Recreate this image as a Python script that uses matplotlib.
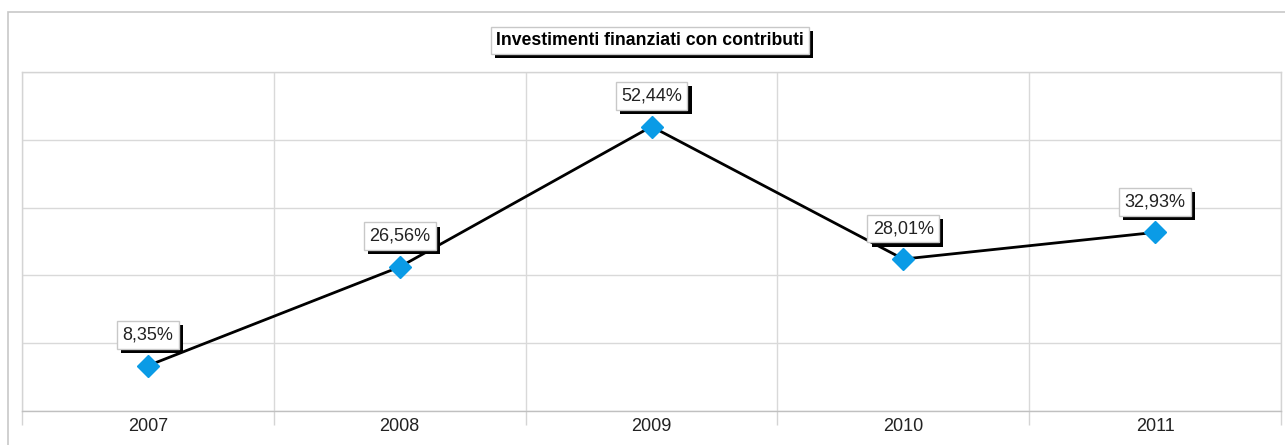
import matplotlib
matplotlib.use("Agg")
import matplotlib.pyplot as plt
import matplotlib.patheffects as pe
from matplotlib.patches import Rectangle

plt.rcParams["font.family"] = ["Liberation Sans", "DejaVu Sans"]

# -------------------------------------------------------
# Data
# -------------------------------------------------------
years = ["2007", "2008", "2009", "2010", "2011"]
values = [8.35, 26.56, 52.44, 28.01, 32.93]
labels = ["8,35%", "26,56%", "52,44%", "28,01%", "32,93%"]
title = "Investimenti finanziati con contributi"

W, H = 1285, 445
fig = plt.figure(figsize=(W / 100, H / 100), dpi=100)

# outer chart frame
fig.add_artist(Rectangle((8 / W, -0.1), 1.2, 1 - 12 / H + 0.1,
                         transform=fig.transFigure, fill=False,
                         edgecolor="#c8c8c8", linewidth=1.2))

ax = fig.add_axes([22 / W, (H - 411) / H, (1281 - 22) / W, (411 - 72) / H])

x = list(range(len(years)))
ax.plot(x, values, color="black", linewidth=2, zorder=3,
        marker="D", markersize=11, markerfacecolor="#0a9be6",
        markeredgecolor="#0a9be6")

shadow = [pe.SimplePatchShadow(offset=(3, -3), shadow_rgbFace="black", alpha=1),
          pe.Normal()]

for xi, v, lab in zip(x, values, labels):
    t = ax.annotate(lab, (xi, v), xytext=(0, 22), textcoords="offset points",
                    ha="center", va="center", fontsize=13, color="#222222",
                    zorder=5,
                    bbox=dict(boxstyle="square,pad=0.3", facecolor="white",
                              edgecolor="#c8c8c8", linewidth=1))
    t.get_bbox_patch().set_path_effects(shadow)

ax.set_xlim(-0.5, len(years) - 0.5)
ax.set_ylim(0, 62.5)

ax.set_yticks([0, 12.5, 25, 37.5, 50, 62.5])
ax.set_yticklabels([])
ax.tick_params(axis="y", length=0)

ax.set_xticks(x)
ax.set_xticklabels(years, fontsize=13, color="#222222")
ax.set_xticks([i + 0.5 for i in range(-1, len(years))], minor=True)
ax.tick_params(axis="x", which="major", length=0, pad=5)
ax.tick_params(axis="x", which="minor", length=10, color="#d4d4d4", width=1)

ax.grid(True, axis="y", which="major", color="#d9d9d9", linewidth=1)
ax.grid(True, axis="x", which="minor", color="#d9d9d9", linewidth=1)
ax.set_axisbelow(True)

for s in ax.spines.values():
    s.set_color("#d4d4d4")
    s.set_linewidth(1)
ax.spines["bottom"].set_color("#c0c0c0")

tt = fig.text(650 / W, 1 - 40.5 / H, title, ha="center", va="center",
              fontsize=12.7, fontweight="bold", color="black",
              bbox=dict(boxstyle="square,pad=0.3", facecolor="white",
                        edgecolor="#c8c8c8", linewidth=1))
tt.get_bbox_patch().set_path_effects(
    [pe.SimplePatchShadow(offset=(3, -3), shadow_rgbFace="black", alpha=1), pe.Normal()])

fig.savefig("out.png", dpi=100)
